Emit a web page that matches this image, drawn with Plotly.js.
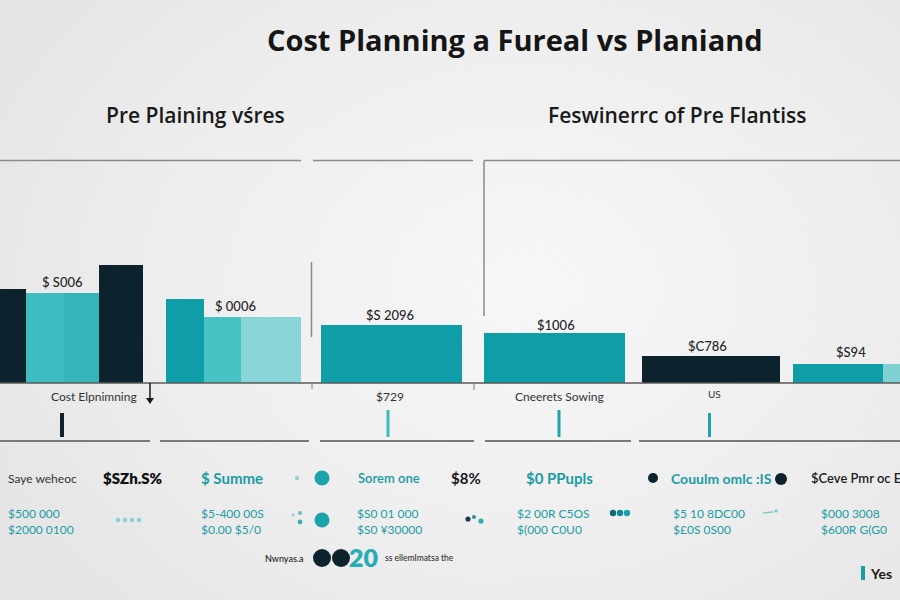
<!DOCTYPE html>
<html>
<head>
<meta charset="utf-8">
<script src="https://cdn.plot.ly/plotly-3.0.1.min.js"></script>
<style>
html,body{margin:0;padding:0;}
#chart{width:900px;height:600px;background:radial-gradient(ellipse 70% 80% at 58% 48%, #f7f7f7 0%, #eeeeee 55%, #e4e4e4 100%);}
</style>
</head>
<body>
<div id="chart"></div>
<script>
// ---- data ----
const barCategories = ['A1','A2','A3','A4','B1','B2','B3','C1','D1','E1','F1','F2'];
const barValues = [94, 90, 90, 118, 84, 66, 66, 58, 50, 27, 19, 19];
const barColorKeys = ['dark','mid','mid2','dark','teal','mid3','light','teal','teal','dark','teal','light2'];
const groupLabels = ['$ S006', '$ 0006', '$S 2096', '$1006', '$C786', '$S94'];
const axisLabels = ['Cost Elpnimning', '$729', 'Cneerets Sowing', 'US'];
const titleText = 'Cost Planning a Fureal vs Planiand';
const subtitles = ['Pre Plaining vśres', 'Feswinerrc of Pre Flantiss'];
const row1Labels = ['Saye weheoc', '$SZh.S%', '$ Summe', 'Sorem one', '$8%', '$0 PPupls', 'Couulm omlc :IS', '$Ceve Pmr oc E'];
const row2Labels = ['$500 000<br>$2000 0100', '$5-400 00S<br>$0.00 $5/0', '$S0 01 000<br>$S0 ¥30000', '$2 00R C5OS<br>$(000 C0U0', '$5 10 8DC00<br>$£0S 0S00', '$000 3008<br>$600R G(G0'];
const row3Labels = ['Nwnyas.a', '20', 'ss ellemlmatsa the', 'Yes'];

// ---- layout / style (positions in pixels of the 900x600 page) ----
const W = 900, H = 600;
const px = x => x / W;
const py = y => 1 - y / H;
const palette = {dark:'#0c222c', teal:'#0f9ea8', mid:'#3dbdc0', mid2:'#34b6b9', mid3:'#48c3c5', light:'#87d5d6', light2:'#7fd0d1'};
const barSpans = [[0,25.7],[25.7,64],[64,98.7],[98.7,143.3],[166,203.7],[203.7,241],[241,301],[321,462.3],[484.3,625],[641.7,779.7],[792.7,883.3],[883.3,900]];
const baseY = 383, topY = 160;
const FONT = 'Lato, "Open Sans", sans-serif';
const HEAD_FONT = '"Open Sans", Lato, sans-serif';
const TEAL_TXT = '#1a9ca5';

const trace = {
  type: 'bar',
  x: barSpans.map(s => (s[0] + s[1]) / 2),
  y: barValues,
  width: barSpans.map(s => s[1] - s[0]),
  customdata: barCategories,
  marker: {color: barColorKeys.map(k => palette[k]), line: {width: 0}},
  hoverinfo: 'skip'
};

const ann = [];
function T(text, x, y, size, color, weight, xanchor, family) {
  ann.push({text: text, x: px(x), y: py(y), xref: 'paper', yref: 'paper', showarrow: false,
    xanchor: xanchor || 'center', yanchor: 'middle', align: xanchor || 'center',
    font: {family: family || FONT, size: size, color: color, weight: weight || 400}});
}
T(titleText, 515, 40, 29, '#151515', 700, 'center', HEAD_FONT);
T(subtitles[0], 195, 115, 21, '#1a1a1a', 600, 'center', HEAD_FONT);
T(subtitles[1], 677, 115, 21, '#1a1a1a', 600, 'center', HEAD_FONT);

const glPos = [[62,282],[235,306],[390,315],[556,325],[707,346],[851,352]];
groupLabels.forEach((t,i) => T(t, glPos[i][0], glPos[i][1], 13, '#262626', 500));
const alPos = [[94,396,12],[390,396,12],[559,396,12],[714,394,10]];
axisLabels.forEach((t,i) => T(t, alPos[i][0], alPos[i][1], alPos[i][2], '#333333', 400));

// row 1
const r1 = [[6,12,'#333333',400],[101,15,'#111111',800],[199,15,TEAL_TXT,700],[356,13,TEAL_TXT,600],[449,15,'#1a1a1a',700],[524,15,TEAL_TXT,700],[669,14,TEAL_TXT,700],[809,13,'#1e1e1e',600]];
row1Labels.forEach((t,i) => T(t, r1[i][0], 478, r1[i][1], r1[i][2], r1[i][3], 'left'));
// row 2
const r2 = [6, 199, 355, 515, 671, 819];
row2Labels.forEach((t,i) => T(t, r2[i], 521, 12, TEAL_TXT, 400, 'left'));
// row 3
T(row3Labels[0], 263, 558, 9, '#222222', 500, 'left');
T(row3Labels[1], 363, 557, 25, '#27aeb3', 800);
T(row3Labels[2], 383, 558, 8.5, '#333333', 500, 'left');
T(row3Labels[3], 868, 573, 14, '#1a1a1a', 700, 'left');

// shapes
const shapes = [];
function L(x0,y0,x1,y1,color,w){shapes.push({type:'line',xref:'paper',yref:'paper',x0:px(x0),y0:py(y0),x1:px(x1),y1:py(y1),line:{color:color,width:w}});}
function C(cx,cy,r,color){shapes.push({type:'circle',xref:'paper',yref:'paper',x0:px(cx-r),x1:px(cx+r),y0:py(cy+r),y1:py(cy-r),fillcolor:color,line:{width:0}});}
function R(x0,y0,x1,y1,color){shapes.push({type:'rect',xref:'paper',yref:'paper',x0:px(x0),x1:px(x1),y0:py(y1),y1:py(y0),fillcolor:color,line:{width:0}});}

// top separators
L(0,160.5,301,160.5,'#8a8a8a',1.5);
L(313,160.5,473,160.5,'#8a8a8a',1.5);
L(484,160.5,900,160.5,'#8a8a8a',1.5);
L(484,160.5,484,316,'#8a8a8a',1.5);
L(311.5,262,311.5,337,'#8a8a8a',1.5);
// baseline
L(0,383,900,383,'#5a5a5a',1.5);
L(312,383,312,389,'#777777',1);
L(474,383,474,390,'#777777',1);
// arrow
L(150,383,150,399,'#1a1a1a',1.5);
shapes.push({type:'path',xref:'paper',yref:'paper',path:'M '+px(146)+' '+py(398)+' L '+px(154)+' '+py(398)+' L '+px(150)+' '+py(404)+' Z',fillcolor:'#1a1a1a',line:{width:0}});
// small ticks
R(60,413,64,437,'#0c222c');
R(386.5,410,389.5,437,'#3cbcbf');
R(557.5,410,560.5,437,'#1aa6ae');
R(708,413,711,437,'#1aa6ae');
// lower separators
L(0,441,150,441,'#7a7a7a',2);
L(160,441,309,441,'#7a7a7a',2);
L(320,441,474,441,'#7a7a7a',2);
L(485,441,631,441,'#7a7a7a',2);
L(639,441,900,441,'#7a7a7a',2);
// decorative dots
C(297,478,2.2,'#8fd3d5');
C(322,478,7.5,'#1aa3ab');
C(653,478,5,'#0c222c');
C(781,479,6,'#0c222c');
[[118,520],[125,520],[132,520],[139,520]].forEach(p => C(p[0],p[1],2.3,'#8fcfd2'));
C(300,513,2,'#5fbfc3'); C(300,522,2.4,'#3cb3b8'); C(293,515,1.5,'#8fd3d5');
C(322,520,7.5,'#1aa3ab');
C(468,519,2.6,'#1b3c46'); C(474,517,2,'#3a8c95'); C(481,521,2.6,'#2bb0b6');
C(613,513,3.2,'#0f6b78'); C(620,513,3.2,'#0f8a95'); C(627,513,3.2,'#1aa3ab');
L(763,513,773,512,'#7ccbd0',1.5); C(776,511,1.8,'#7ccbd0');
// row 3 blobs
C(322,558,9,'#0c222c'); C(341,558,9,'#0c222c');
R(861,566,865,580,'#1a9ca5');

const layout = {
  width: W, height: H,
  margin: {l:0, r:0, t:0, b:0, pad:0},
  paper_bgcolor: 'rgba(0,0,0,0)', plot_bgcolor: 'rgba(0,0,0,0)',
  showlegend: false, barmode: 'overlay', bargap: 0,
  xaxis: {range: [0, W], domain: [0, 1], visible: false, fixedrange: true},
  yaxis: {range: [0, baseY - topY], domain: [py(baseY), py(topY)], visible: false, fixedrange: true},
  annotations: ann, shapes: shapes, hovermode: false
};
Plotly.newPlot('chart', [trace], layout, {staticPlot: true, displayModeBar: false});
</script>
</body>
</html>
